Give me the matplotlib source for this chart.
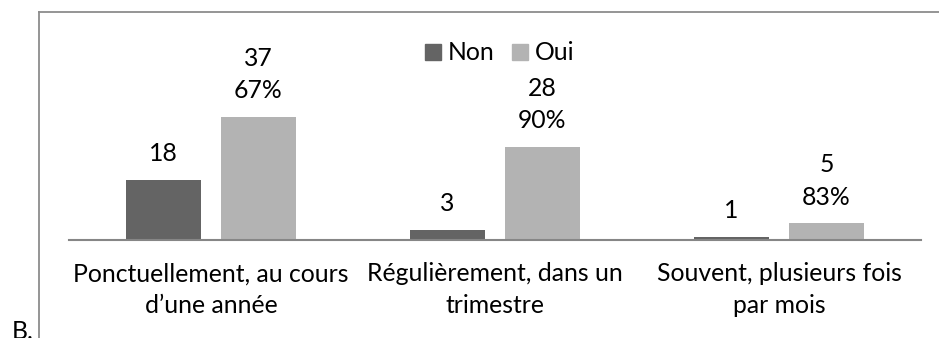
import matplotlib.pyplot as plt
import numpy as np
from matplotlib.patches import Patch
from matplotlib.lines import Line2D

categories = ["Ponctuellement, au cours\nd\u2019une année",
              "Régulièrement, dans un\ntrimestre",
              "Souvent, plusieurs fois\npar mois"]
non = [18, 3, 1]
oui = [37, 28, 5]
oui_pct = [67, 90, 83]

plt.rcParams['font.family'] = ['Lato', 'DejaVu Sans']
FS = 17.8
c_non = '#646464'
c_oui = '#b3b3b3'

W, H = 939, 338
fig = plt.figure(figsize=(W / 100, H / 100), dpi=100)
ax = fig.add_axes([69 / W, (H - 240) / H, 852 / W, 210 / H])

x = np.arange(len(categories))
bw = 0.264
off = 0.1672
b1 = ax.bar(x - off, non, bw, color=c_non)
b2 = ax.bar(x + off, oui, bw, color=c_oui)

ax.set_xlim(-0.5, 2.5)
ax.set_ylim(0, 210 / 3.33)

for rect, n in zip(b1, non):
    ax.annotate(str(n), (rect.get_x() + rect.get_width() / 2, rect.get_height()),
                xytext=(0, 10.5), textcoords='offset points', ha='center', va='bottom',
                fontsize=FS, annotation_clip=False)
for rect, n, p in zip(b2, oui, oui_pct):
    ax.annotate(f"{n}\n{p}%", (rect.get_x() + rect.get_width() / 2, rect.get_height()),
                xytext=(0, 10.5), textcoords='offset points', ha='center', va='bottom',
                fontsize=FS, linespacing=1.5, annotation_clip=False)

ax.set_xticks(x)
ax.set_xticklabels(categories, fontsize=FS, linespacing=1.45)
ax.tick_params(axis='x', length=0, pad=16)
ax.set_yticks([])
for s in ['top', 'left', 'right']:
    ax.spines[s].set_visible(False)
ax.spines['bottom'].set_color('#868686')
ax.spines['bottom'].set_linewidth(1.5)

handles = [Patch(color=c_non, label='Non'), Patch(color=c_oui, label='Oui')]
fig.legend(handles=handles, loc='center', bbox_to_anchor=(500 / W, 1 - 53 / H),
           ncol=2, frameon=False, fontsize=FS, handlelength=0.62, handleheight=0.62,
           handletextpad=0.3, columnspacing=0.7)

# outer frame
fig.add_artist(Line2D([39 / W, 39 / W], [0, 1 - 12 / H], transform=fig.transFigure,
                      color='#8c8c8c', lw=1.3))
fig.add_artist(Line2D([39 / W, 1], [1 - 12 / H, 1 - 12 / H], transform=fig.transFigure,
                      color='#8c8c8c', lw=1.3))
fig.text(12 / W, 1 - 320 / H, "B.", fontsize=FS, va='top', ha='left')

fig.savefig('out.png', dpi=100)
